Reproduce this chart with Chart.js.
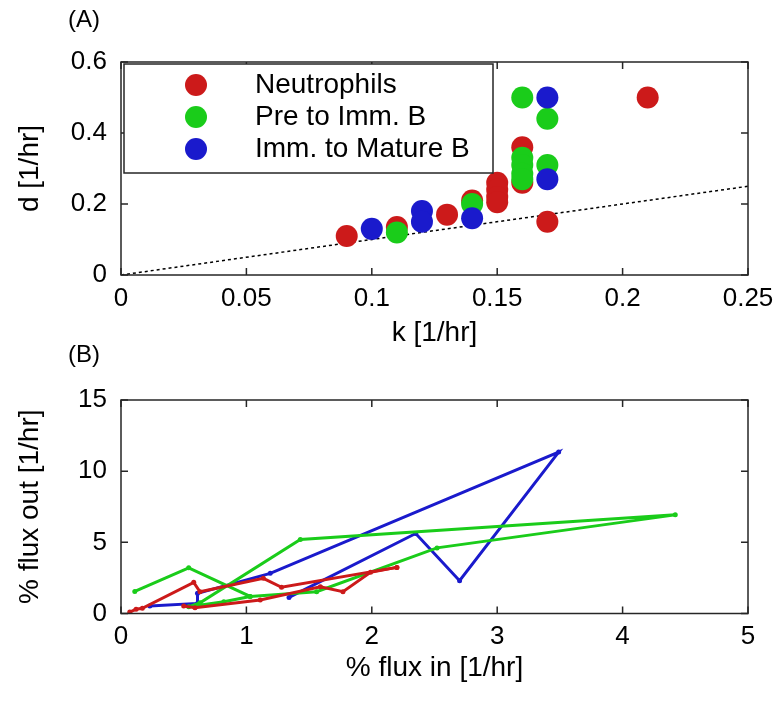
<!DOCTYPE html>
<html>
<head>
<meta charset="utf-8">
<script src="https://cdn.jsdelivr.net/npm/chart.js"></script>
<style>
body { margin: 0; background: #fff; }
#marco { position: relative; width: 784px; height: 704px; }
canvas { position: absolute; left: 0; }
#graficaA { top: 0; }
#graficaB { top: 330px; }
</style>
</head>
<body>
<div id="marco">
<canvas id="graficaA" width="784" height="352"></canvas>
<canvas id="graficaB" width="784" height="374"></canvas>
</div>
<script>
// nombres y colores de las series
var nombres = ['Neutrophils', 'Pre to Imm. B', 'Imm. to Mature B']
var colores = ['rgb(204, 26, 26)', 'rgb(26, 204, 26)', 'rgb(26, 26, 204)']

// panel (A): k vs d
var neutroK = [0.09, 0.11, 0.13, 0.14, 0.15, 0.15, 0.15, 0.15, 0.16, 0.16, 0.17, 0.21]
var neutroD = [0.11, 0.135, 0.17, 0.21, 0.26, 0.24, 0.22, 0.205, 0.36, 0.26, 0.15, 0.5]
var preK = [0.11, 0.14, 0.16, 0.16, 0.16, 0.16, 0.16, 0.17, 0.17]
var preD = [0.12, 0.2, 0.5, 0.33, 0.31, 0.285, 0.27, 0.44, 0.31]
var inmK = [0.1, 0.12, 0.12, 0.14, 0.17, 0.17]
var inmD = [0.13, 0.18, 0.15, 0.16, 0.5, 0.27]
var lineaK = [0, 0.25]
var lineaD = [0, 0.25]
var ticksK = [0, 0.05, 0.1, 0.15, 0.2, 0.25]
var ticksD = [0, 0.2, 0.4, 0.6]

// panel (B): % flux in vs % flux out
var neutro1In = [0.07, 0.12, 0.17, 0.58, 0.63, 1.135, 1.28, 2.2]
var neutro1Out = [0.1, 0.3, 0.37, 2.19, 1.53, 2.47, 1.84, 3.24]
var neutro2In = [0.5, 0.59, 1.11, 1.59, 1.77, 1.99, 2.2]
var neutro2Out = [0.53, 0.4, 0.95, 1.88, 1.53, 2.89, 3.24]
var preIn = [0.11, 0.54, 1.03, 1.56, 2.52, 4.42, 1.43, 0.63, 0.54, 0.82, 1.03]
var preOut = [1.55, 3.21, 1.2, 1.53, 4.61, 6.93, 5.2, 0.75, 0.48, 0.83, 1.2]
var inmIn = [0.23, 0.61, 0.61, 1.19, 3.49, 2.7, 2.35, 1.34]
var inmOut = [0.53, 0.71, 1.42, 2.82, 11.34, 2.3, 5.62, 1.13]
var ticksIn = [0, 1, 2, 3, 4, 5]
var ticksOut = [0, 5, 10, 15]

var fuente = "'Liberation Sans', Arial, sans-serif"
var grisEje = '#262626'

function juntar(xs, ys) {
    var r = []
    for (var i = 0; i < xs.length; i++) {
        r.push({ x: xs[i], y: ys[i] })
    }
    return r
}

// caja de ejes con marcas hacia adentro en los cuatro lados
const cajaEjes = {
    id: 'cajaEjes',
    afterDatasetsDraw(chart) {
        const ctx = chart.ctx
        const a = chart.chartArea
        const sx = chart.scales.x
        const sy = chart.scales.y
        ctx.save()
        ctx.strokeStyle = grisEje
        ctx.lineWidth = 1.5
        ctx.strokeRect(a.left, a.top, a.right - a.left, a.bottom - a.top)
        ctx.beginPath()
        sx.ticks.forEach(function (t) {
            var px = sx.getPixelForValue(t.value)
            ctx.moveTo(px, a.bottom); ctx.lineTo(px, a.bottom - 7)
            ctx.moveTo(px, a.top); ctx.lineTo(px, a.top + 7)
        })
        sy.ticks.forEach(function (t) {
            var py = sy.getPixelForValue(t.value)
            ctx.moveTo(a.left, py); ctx.lineTo(a.left + 7, py)
            ctx.moveTo(a.right, py); ctx.lineTo(a.right - 7, py)
        })
        ctx.stroke()
        // etiqueta del panel
        ctx.fillStyle = '#000'
        ctx.font = '24px ' + fuente
        ctx.textBaseline = 'middle'
        ctx.textAlign = 'left'
        ctx.fillText(chart.options.plugins.cajaEjes.etiqueta, 68, chart.options.plugins.cajaEjes.yEtiqueta)
        ctx.restore()
    }
}

// leyenda dentro de una caja, como en la figura
const leyendaCaja = {
    id: 'leyendaCaja',
    afterDraw(chart) {
        const op = chart.options.plugins.leyendaCaja
        if (!op || !op.mostrar) return
        const ctx = chart.ctx
        ctx.save()
        ctx.fillStyle = '#fff'
        ctx.fillRect(124, 64, 369, 109)
        ctx.strokeStyle = grisEje
        ctx.lineWidth = 1.5
        ctx.strokeRect(124, 64, 369, 109)
        ctx.font = '28px ' + fuente
        ctx.textBaseline = 'middle'
        ctx.textAlign = 'left'
        for (var i = 0; i < nombres.length; i++) {
            var y = 85 + i * 32
            ctx.fillStyle = colores[i]
            ctx.beginPath()
            ctx.arc(196, y, 11, 0, Math.PI * 2)
            ctx.fill()
            ctx.fillStyle = '#000'
            ctx.fillText(nombres[i], 255, y)
        }
        ctx.restore()
    }
}

function ejeX(ticks, min, max, titulo, alto, padTitulo) {
    return {
        type: 'linear', min: min, max: max,
        afterBuildTicks: function (s) { s.ticks = ticks.map(function (v) { return { value: v } }) },
        afterFit: function (s) { s.height = alto },
        grid: { display: false, drawTicks: false },
        border: { display: false },
        ticks: { color: '#000', padding: 8, font: { family: fuente, size: 26 }, callback: function (v) { return String(v) } },
        title: { display: true, text: titulo, color: '#000', font: { family: fuente, size: 28 }, padding: { top: 0, bottom: padTitulo } }
    }
}

function ejeY(ticks, min, max, titulo) {
    return {
        type: 'linear', min: min, max: max,
        afterBuildTicks: function (s) { s.ticks = ticks.map(function (v) { return { value: v } }) },
        afterFit: function (s) { s.width = 121 },
        grid: { display: false, drawTicks: false },
        border: { display: false },
        ticks: { color: '#000', padding: 14, font: { family: fuente, size: 26 }, callback: function (v) { return String(v) } },
        title: { display: true, text: titulo, color: '#000', font: { family: fuente, size: 28 }, padding: { top: 13, bottom: 0 } }
    }
}

const datosA = {
    datasets: [
        { label: 'd = k', type: 'line', data: juntar(lineaK, lineaD), borderColor: '#000', borderWidth: 1.5, borderDash: [3, 3], pointRadius: 0, fill: false, order: 4 },
        { label: nombres[0], data: juntar(neutroK, neutroD), backgroundColor: colores[0], borderWidth: 0, pointRadius: 11, order: 3 },
        { label: nombres[1], data: juntar(preK, preD), backgroundColor: colores[1], borderWidth: 0, pointRadius: 11, order: 2 },
        { label: nombres[2], data: juntar(inmK, inmD), backgroundColor: colores[2], borderWidth: 0, pointRadius: 11, order: 1 }
    ]
}

const configA = {
    type: 'scatter',
    data: datosA,
    options: {
        responsive: false,
        animation: false,
        devicePixelRatio: 1,
        layout: { padding: { left: 0, right: 36, top: 62, bottom: 0 } },
        scales: {
            x: ejeX(ticksK, 0, 0.25, 'k [1/hr]', 77, 2),
            y: ejeY(ticksD, 0, 0.6, 'd [1/hr]')
        },
        plugins: {
            legend: { display: false },
            tooltip: { enabled: false },
            cajaEjes: { etiqueta: '(A)', yEtiqueta: 20 },
            leyendaCaja: { mostrar: true }
        }
    },
    plugins: [cajaEjes, leyendaCaja]
}

function serieLinea(nombre, xs, ys, color) {
    return { label: nombre, type: 'line', data: juntar(xs, ys), borderColor: color, backgroundColor: color, borderWidth: 3, pointRadius: 2.5, pointBorderWidth: 0, fill: false, tension: 0 }
}

const datosB = {
    datasets: [
        serieLinea(nombres[0], neutro1In, neutro1Out, colores[0]),
        serieLinea(nombres[0], neutro2In, neutro2Out, colores[0]),
        serieLinea(nombres[1], preIn, preOut, colores[1]),
        serieLinea(nombres[2], inmIn, inmOut, colores[2])
    ]
}

const configB = {
    type: 'scatter',
    data: datosB,
    options: {
        responsive: false,
        animation: false,
        devicePixelRatio: 1,
        layout: { padding: { left: 0, right: 36, top: 70, bottom: 0 } },
        scales: {
            x: ejeX(ticksIn, 0, 5, '% flux in [1/hr]', 90.5, 19),
            y: ejeY(ticksOut, 0, 15, '% flux out [1/hr]')
        },
        plugins: {
            legend: { display: false },
            tooltip: { enabled: false },
            cajaEjes: { etiqueta: '(B)', yEtiqueta: 25 }
        }
    },
    plugins: [cajaEjes]
}

const graficaA = new Chart(document.getElementById('graficaA'), configA)
const graficaB = new Chart(document.getElementById('graficaB'), configB)
</script>
</body>
</html>
